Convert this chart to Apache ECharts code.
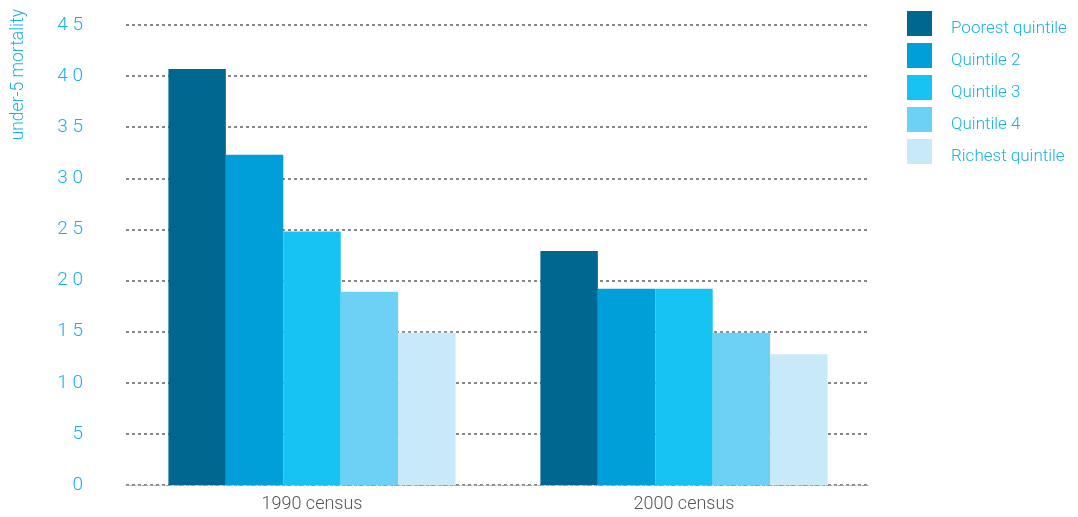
<!DOCTYPE html>
<html><head><meta charset="utf-8">
<script src="https://cdn.jsdelivr.net/npm/echarts@6/dist/echarts.min.js"></script>
<style>html,body{margin:0;padding:0;background:#fff}#c{width:1078px;height:517px}</style>
</head><body><div id="c"></div>
<script>
const categories = ['1990 census', '2000 census'];
const seriesNames = ['Poorest quintile', 'Quintile 2', 'Quintile 3', 'Quintile 4', 'Richest quintile'];
const poorest = [40.7, 22.9];
const quintile2 = [32.3, 19.2];
const quintile3 = [24.8, 19.2];
const quintile4 = [18.9, 14.9];
const richest = [14.9, 12.8];
const yTicks = [0, 5, 10, 15, 20, 25, 30, 35, 40, 45];
const yAxisTitle = 'under-5 mortality';
const colors = ['#006890', '#009fd9', '#16c3f2', '#6dd0f5', '#c7e9f8'];
const values = [poorest, quintile2, quintile3, quintile4, richest];
const font = 'Roboto, "Liberation Sans", sans-serif';
const cyan = '#1ab0e8';
const chart = echarts.init(document.getElementById('c'));
chart.setOption({
  animation: false,
  grid: {left: 126, right: 208, top: 25, bottom: 32, containLabel: false},
  legend: {
    orient: 'vertical', left: 902, top: 6, itemWidth: 25, itemHeight: 25, itemGap: 6,
    icon: 'rect',
    formatter: n => '{t|' + n + '}',
    textStyle: {color: cyan, fontSize: 17, fontWeight: 300, fontFamily: font,
      rich: {t: {color: cyan, fontSize: 17, fontWeight: 300, fontFamily: font, padding: [10, 0, 0, 14]}}},
    data: seriesNames
  },
  graphic: [{
    type: 'text', x: 19, y: 9, rotation: Math.PI / 2,
    style: {text: yAxisTitle, fill: cyan, fontSize: 17.5, fontWeight: 300, fontFamily: font,
      textAlign: 'right', textVerticalAlign: 'middle'}
  }],
  xAxis: {
    type: 'category', data: categories,
    axisLine: {show: true, lineStyle: {color: '#aaa', type: [2, 2], width: 1}},
    axisTick: {show: false},
    axisLabel: {color: '#555', fontSize: 18, fontWeight: 300, fontFamily: font, margin: 10}
  },
  yAxis: {
    type: 'value', min: 0, max: 45, interval: 5,
    axisLine: {show: false}, axisTick: {show: false},
    splitLine: {show: true, lineStyle: {color: '#888', type: [3, 3], width: 2}},
    axisLabel: {color: cyan, fontSize: 19, fontWeight: 300, fontFamily: font, margin: 43,
      formatter: v => yTicks.includes(v) ? String(v).split('').join(' ') : ''}
  },
  series: seriesNames.map((n, i) => ({
    name: n, type: 'bar', data: values[i], barGap: '0%', barCategoryGap: '22.8%',
    itemStyle: {color: colors[i]}
  }))
});
</script></body></html>
